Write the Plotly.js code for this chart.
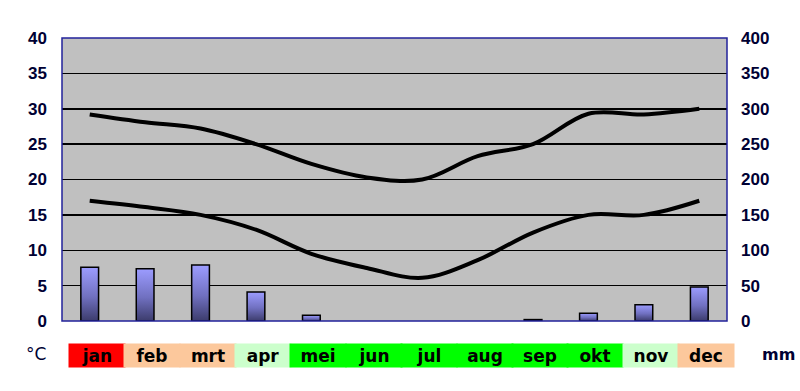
<!DOCTYPE html>
<html>
<head>
<meta charset="utf-8">
<script src="https://cdn.plot.ly/plotly-3.0.1.min.js"></script>
<style>
html,body{margin:0;padding:0;background:#fff;}
#chart{width:800px;height:391px;}
</style>
</head>
<body>
<div id="chart"></div>
<script>
// Data
var months = ["jan","feb","mrt","apr","mei","jun","jul","aug","sep","okt","nov","dec"];
var monthColors = ["#ff0000","#fcc89c","#fcc89c","#ccffcc","#00ff00","#00ff00","#00ff00","#00ff00","#00ff00","#00ff00","#ccffcc","#fcc89c"];
var tempMax = [29.2, 28.1, 27.2, 25.0, 22.2, 20.3, 20.0, 23.3, 25.0, 29.3, 29.2, 30.0];
var tempMin = [17.0, 16.1, 15.0, 12.9, 9.5, 7.5, 6.1, 8.6, 12.5, 15.0, 15.0, 17.0];
var rainMm = [76, 74, 79, 41, 8, 0, 0, 0, 2, 11, 23, 48];
var tempTicks = [0,5,10,15,20,25,30,35,40];
var rainTicks = [0,50,100,150,200,250,300,350,400];

var xIdx = months.map(function(m,i){return i;});
var txtColor = "#000033";
var fontFam = "Liberation Sans, Arial, sans-serif";
var labelFam = "DejaVu Sans, Verdana, sans-serif";

var traces = [
  {
    type: "bar", x: xIdx, y: rainMm, yaxis: "y2", width: 0.32,
    marker: {color: "#7070c8", line: {color: "#000000", width: rainMm.map(function(v){return v > 0 ? 1.5 : 0;})}},
    hoverinfo: "skip", showlegend: false
  },
  {
    type: "scatter", mode: "lines", x: xIdx, y: tempMax, yaxis: "y",
    line: {color: "#000000", width: 4, shape: "spline", smoothing: 1},
    showlegend: false
  },
  {
    type: "scatter", mode: "lines", x: xIdx, y: tempMin, yaxis: "y",
    line: {color: "#000000", width: 4, shape: "spline", smoothing: 1},
    showlegend: false
  }
];

var annotations = months.map(function(m,i){
  return {
    xref: "x", yref: "paper", x: i, xshift: 7, y: -0.122, yanchor: "middle", xanchor: "center",
    text: "<b>" + m + "</b>", showarrow: false, width: 56, height: 23,
    bgcolor: monthColors[i], borderpad: 0,
    font: {family: labelFam, size: 17, color: "#000000"}
  };
});
annotations.push({xref:"paper", yref:"paper", x:-0.039, y:-0.118, yanchor:"middle", xanchor:"center",
  text:"°C", showarrow:false, font:{family:labelFam, size:17, color:txtColor}});
annotations.push({xref:"paper", yref:"paper", x:1.077, y:-0.118, yanchor:"middle", xanchor:"center",
  text:"<b>mm</b>", showarrow:false, font:{family:labelFam, size:16, color:txtColor}});

var layout = {
  width: 800, height: 391,
  margin: {l: 62, r: 73, t: 38, b: 70, pad: 0},
  paper_bgcolor: "#ffffff",
  plot_bgcolor: "#c0c0c0",
  showlegend: false,
  bargap: 0,
  xaxis: {
    range: [-0.5, 11.5], showticklabels: false, showgrid: false, zeroline: false,
    ticks: "", fixedrange: true
  },
  yaxis: {
    range: [0, 40], tickvals: tempTicks, ticktext: tempTicks.map(String),
    showgrid: true, gridcolor: "#000000", gridwidth: 1.5, zeroline: false,
    ticks: "", ticklabelstandoff: 14,
    tickfont: {family: fontFam, size: 17, color: txtColor, weight: "bold"}
  },
  yaxis2: {
    range: [0, 400], overlaying: "y", side: "right", tickvals: rainTicks, ticktext: rainTicks.map(String),
    showgrid: false, zeroline: false, ticks: "", ticklabelstandoff: 13,
    tickfont: {family: fontFam, size: 17, color: txtColor, weight: "bold"}
  },
  shapes: [
    {type: "rect", xref: "paper", yref: "paper", x0: 0, x1: 1, y0: 0, y1: 1,
     line: {color: "#22229a", width: 1.5}, fillcolor: "rgba(0,0,0,0)", layer: "above"}
  ],
  annotations: annotations
};

Plotly.newPlot("chart", traces, layout, {staticPlot: true, displayModeBar: false}).then(function(gd){
  var svgNS = "http://www.w3.org/2000/svg";
  var defs = gd.querySelector(".main-svg defs");
  var grad = document.createElementNS(svgNS, "linearGradient");
  grad.setAttribute("id", "barGrad");
  grad.setAttribute("x1","0"); grad.setAttribute("y1","0");
  grad.setAttribute("x2","0"); grad.setAttribute("y2","1");
  [["0%","#9c9cff"],["55%","#7070c0"],["100%","#3c3c6c"]].forEach(function(s){
    var st = document.createElementNS(svgNS, "stop");
    st.setAttribute("offset", s[0]); st.setAttribute("stop-color", s[1]);
    grad.appendChild(st);
  });
  defs.appendChild(grad);
  gd.querySelectorAll(".barlayer .point path").forEach(function(p){
    p.style.fill = "url(#barGrad)";
  });
});
</script>
</body>
</html>
